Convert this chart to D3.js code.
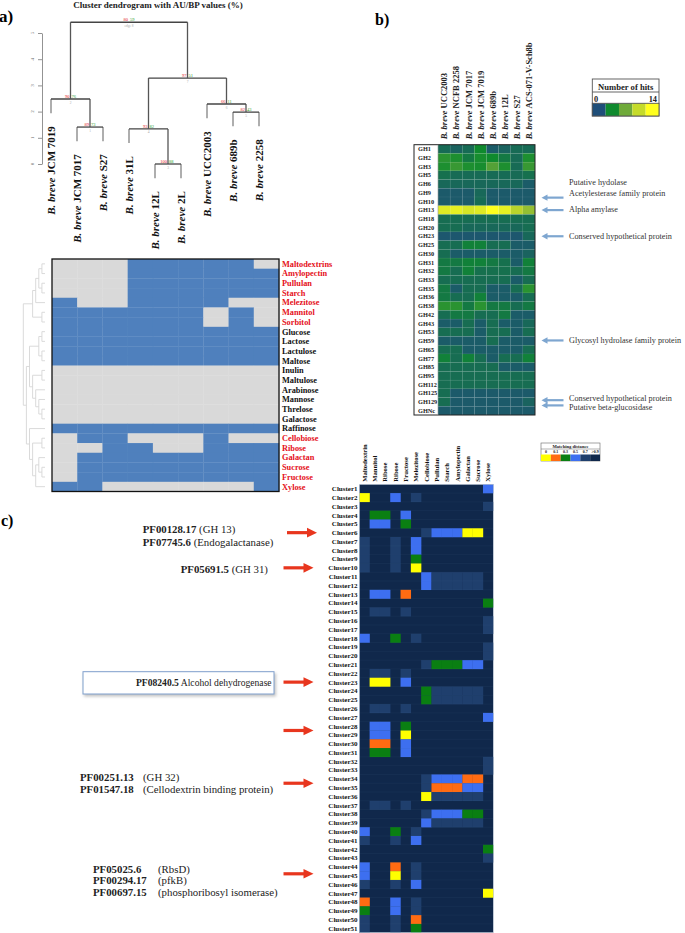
<!DOCTYPE html>
<html><head><meta charset="utf-8">
<script src="https://cdn.jsdelivr.net/npm/d3@7"></script>
<style>
body{margin:0;background:#fff}
svg{display:block}
text{font-family:"Liberation Serif","Times New Roman",serif}
</style>
</head><body>
<svg id="c" width="685" height="933"></svg>
<script>
// ---------------- DATA ----------------
// Panel a : dendrogram (pvclust)
const dendroLeaves = ["JCM 7019","JCM 7017","S27","31L","12L","2L","UCC2003","689b","2258"];
const dendroMerges = [[-2,-3],[-1,1],[-5,-6],[-4,3],[-8,-9],[-7,5],[4,6],[2,7]];
const dendroHeights = [1.41,2.48,0.0,1.34,1.98,2.29,3.28,5.41];
const dendroAU = [89,90,100,93,82,66,97,80];
const dendroBP = [73,76,88,82,43,11,51,59];
const yTicksA = [0,1,2,3,4,5];

// Panel a : growth heatmap
const sugarsA = ["Maltodextrins","Amylopectin","Pullulan","Starch","Melezitose","Mannitol","Sorbitol","Glucose","Lactose","Lactulose","Maltose","Inulin","Maltulose","Arabinose","Mannose","Threlose","Galactose","Raffinose","Cellobiose","Ribose","Galactan","Sucrose","Fructose","Xylose"];
const sugarsRedA = [1,1,1,1,1,1,1,0,0,0,0,0,0,0,0,0,0,0,1,1,1,1,1,1];
const growthA = [
 [0,0,0,1,1,1,1,1,0],
 [0,0,0,1,1,1,1,1,1],
 [0,0,0,1,1,1,1,1,1],
 [0,0,0,1,1,1,1,1,1],
 [1,0,0,1,1,1,1,0,0],
 [1,1,1,1,1,1,0,1,0],
 [1,1,1,1,1,1,0,1,0],
 [1,1,1,1,1,1,1,1,1],
 [1,1,1,1,1,1,1,1,1],
 [1,1,1,1,1,1,1,1,1],
 [1,1,1,1,1,1,1,1,1],
 [0,0,0,0,0,0,0,0,0],
 [0,0,0,0,0,0,0,0,0],
 [0,0,0,0,0,0,0,0,0],
 [0,0,0,0,0,0,0,0,0],
 [0,0,0,0,0,0,0,0,0],
 [0,0,0,0,0,0,0,0,0],
 [1,1,1,1,1,1,1,1,1],
 [0,1,1,0,0,0,1,0,0],
 [0,0,1,1,0,0,1,1,1],
 [0,1,1,1,1,1,1,1,1],
 [0,1,1,1,1,1,1,1,1],
 [0,1,1,1,1,1,1,1,1],
 [1,1,0,0,0,0,0,0,1]
];
const rowTreeA = [[[[[0,1],[2,3]],4],[5,6]],[[[[7,8],[9,10]],[[11,12],[13,[14,[15,16]]]]],[17,[[18,19],[[20,[21,22]],23]]]]];

// Panel b : GH families heatmap
const strainsB = ["UCC2003","NCFB 2258","JCM 7017","JCM 7019","689b","12L","S27","ACS-071-V-Sch8b"];
const ghRows = ["GH1","GH2","GH3","GH5","GH6","GH9","GH10","GH13","GH18","GH20","GH23","GH25","GH30","GH31","GH32","GH33","GH35","GH36","GH38","GH42","GH43","GH53","GH59","GH65","GH77","GH85","GH95","GH112","GH125","GH129","GHNc"];
const hitsB = [
 [1.7,1.2,1.7,3.5,0.8,1.2,1.7,1.7],
 [4.5,4.0,2.5,3.8,3.5,2.5,1.7,4.0],
 [4.0,5.0,4.0,3.8,6.0,4.0,1.7,5.0],
 [2.0,1.7,1.7,1.7,1.7,1.7,1.7,2.0],
 [1.5,1.5,1.5,1.5,1.5,1.5,1.5,0.8],
 [0.7,0.7,0.7,1.5,0.7,0.7,0.7,0.7],
 [0.7,0.7,0.7,1.7,0.7,0.7,0.7,0.7],
 [12,12.5,11.5,12,14,12.5,10,8.5],
 [1.8,1.8,1.8,1.8,1.8,1.8,1.8,1.8],
 [1.8,1.8,1.5,1.5,1.5,1.5,1.5,1.8],
 [0.5,0.5,0.5,0.5,0.5,0.5,0.5,1.5],
 [1.8,1.8,3.0,3.0,1.8,1.8,0.8,0.8],
 [1.8,0.8,0.8,0.8,0.8,0.8,0.8,1.2],
 [2.5,2.5,3.0,3.0,2.5,2.0,0.8,3.0],
 [2.5,1.8,3.0,2.0,2.0,2.0,1.8,2.5],
 [1.8,1.8,1.8,1.8,1.8,1.8,0.8,1.8],
 [2.5,0.8,1.8,1.8,0.8,0.8,1.8,4.5],
 [2.5,1.8,1.8,3.0,0.8,0.8,0.8,1.8],
 [4.5,4.5,2.5,4.5,2.5,2.5,1.8,2.5],
 [1.8,2.5,2.5,1.8,1.8,2.5,0.8,0.8],
 [0.8,0.8,1.8,0.8,1.8,0.8,0.8,1.5],
 [1.8,1.8,1.8,0.8,1.8,1.8,0.8,1.8],
 [0.8,0.8,0.8,0.8,1.8,0.8,0.8,0.8],
 [1.8,1.8,0.8,0.8,0.8,0.8,0.8,1.8],
 [3.0,1.8,3.0,1.8,0.8,1.8,1.8,3.0],
 [1.8,1.8,1.8,1.8,1.8,0.8,0.8,0.8],
 [1.8,1.8,1.8,1.8,1.8,1.8,1.8,1.8],
 [1.8,1.8,1.8,1.8,1.8,1.8,1.8,1.8],
 [1.8,0.7,0.7,0.7,0.7,0.7,0.7,0.7],
 [1.8,0.7,0.7,0.7,0.7,0.7,0.7,1.2],
 [0.7,0.7,0.7,0.7,0.7,0.7,0.7,0.7]
];
const hitsLegendStops = [0,3.5,7,10.5,14];
const hitsLegendColors = ["#1f4e79","#0f8a2e","#6faa3a","#c5db2a","#ffff1e"];
const annotB = [
 {text:"Putative hydolase", textPos:3.77, arrowPos:null},
 {text:"Acetylesterase family protein", textPos:5.03, arrowPos:5.57},
 {text:"Alpha amylase", textPos:6.87, arrowPos:7.0},
 {text:"Conserved hypothetical protein", textPos:9.96, arrowPos:10.0},
 {text:"Glycosyl hydrolase family protein", textPos:21.9, arrowPos:21.95},
 {text:"Conserved hypothetical protein", textPos:28.6, arrowPos:28.8},
 {text:"Putative beta-glucosidase", textPos:29.6, arrowPos:29.4}
];

// Panel c : cluster matching distances
const carbC = ["Maltodextrin","Mannitol","Ribose","Ribose","Fructose","Melezitose","Cellobiose","Pullulan","Starch","Amylopectin","Galactan","Sucrose","Xylose"];
const clusterNames = d3.range(1,52).map(i=>"Cluster"+i);
const distC = [
 [1,1,1,1,1,1,1,1,1,1,1,1,.5],
 [0,1,1,.5,1,.7,1,1,1,1,1,1,1],
 [1,1,1,1,1,1,1,1,1,1,1,1,.7],
 [1,.3,.3,1,.5,1,1,1,1,1,1,1,1],
 [1,.5,.5,1,.3,1,1,1,1,1,1,1,1],
 [1,1,1,1,1,1,.7,.5,.5,.5,0,0,1],
 [.7,1,1,.7,1,.5,1,1,1,1,1,1,1],
 [.7,1,1,.7,1,.5,1,1,1,1,1,1,1],
 [.7,1,1,.7,1,.3,1,1,1,1,1,1,1],
 [.7,1,1,.7,1,0,1,1,1,1,1,1,1],
 [1,1,1,1,1,1,.5,.7,.7,.7,.7,.7,1],
 [1,1,1,1,1,1,.5,.7,.7,.7,.7,.7,1],
 [1,.5,.5,1,.1,1,1,1,1,1,1,1,1],
 [1,1,1,1,1,1,1,1,1,1,1,1,.3],
 [1,.7,.7,1,.7,1,1,1,1,1,1,1,1],
 [1,1,1,1,1,1,1,1,1,1,1,1,.7],
 [1,1,1,1,1,1,1,1,1,1,1,1,.7],
 [.5,1,1,.3,1,.7,1,1,1,1,1,1,1],
 [1,1,1,1,1,1,1,1,1,1,1,1,.7],
 [1,1,1,1,1,1,1,1,1,1,1,1,.7],
 [1,1,1,1,1,1,.7,.3,.3,.3,.5,.5,1],
 [1,.7,.7,1,.7,1,1,1,1,1,1,1,1],
 [1,0,0,1,.5,1,1,1,1,1,1,1,1],
 [1,1,1,1,1,1,.3,.7,.7,.7,.7,.7,1],
 [1,1,1,1,1,1,.3,.7,.7,.7,.7,.7,1],
 [1,.7,.7,1,.7,1,1,1,1,1,1,1,1],
 [1,1,1,1,1,1,1,1,1,1,1,1,.5],
 [1,.5,.5,1,.3,1,1,1,1,1,1,1,1],
 [1,.5,.5,1,0,1,1,1,1,1,1,1,1],
 [1,.1,.1,1,.5,1,1,1,1,1,1,1,1],
 [1,.3,.3,1,.5,1,1,1,1,1,1,1,1],
 [1,1,1,1,1,1,1,1,1,1,1,1,.7],
 [1,1,1,1,1,1,1,1,1,1,1,1,.7],
 [1,1,1,1,1,1,.7,.5,.5,.5,.1,.1,1],
 [1,1,1,1,1,1,.7,.1,.1,.1,.5,.5,1],
 [1,1,1,1,1,1,0,.7,.7,.7,.7,.7,1],
 [1,.7,.7,1,.7,1,1,1,1,1,1,1,1],
 [1,1,1,1,1,1,.7,.5,.5,.5,.3,.3,1],
 [1,1,1,1,1,1,.5,.7,.7,.7,.7,.7,1],
 [.5,1,1,.3,1,.7,1,1,1,1,1,1,1],
 [.7,1,1,.7,1,.5,1,1,1,1,1,1,1],
 [1,1,1,1,1,1,1,1,1,1,1,1,.3],
 [1,1,1,1,1,1,1,1,1,1,1,1,.7],
 [.5,1,1,.1,1,.7,1,1,1,1,1,1,1],
 [.5,1,1,0,1,.7,1,1,1,1,1,1,1],
 [.7,1,1,.7,1,.5,1,1,1,1,1,1,1],
 [1,1,1,1,1,1,1,1,1,1,1,1,0],
 [.1,1,1,.5,1,.7,1,1,1,1,1,1,1],
 [.3,1,1,.5,1,.7,1,1,1,1,1,1,1],
 [.7,1,1,.7,1,.1,1,1,1,1,1,1,1],
 [.7,1,1,.7,1,.3,1,1,1,1,1,1,1]
];
const distLevels = [0,0.1,0.3,0.5,0.7,1];
const distLabels = ["0","0.1","0.3","0.5","0.7",">0.9"];
const distColors = ["#ffff00","#ff6b12","#0a7f12","#3d6ff0","#1f3f6d","#10284b"];
const arrowRowsC = [6,10,23,28.5,34.5,44.8];
const annotC = [
 {parts:[["PF00128.17","(GH 13)"]], x:142.7, y:532.5},
 {parts:[["PF07745.6","(Endogalactanase)"]], x:142.7, y:545.5},
 {parts:[["PF05691.5","(GH 31)"]], x:180.7, y:572.5},
 {parts:[["PF00251.13","(GH 32)"]], x:80, y:781, px:143},
 {parts:[["PF01547.18","(Cellodextrin binding protein)"]], x:80, y:793, px:143},
 {parts:[["PF05025.6","(RbsD)"]], x:93, y:872.5, px:158},
 {parts:[["PF00294.17","(pfkB)"]], x:93, y:884, px:158},
 {parts:[["PF00697.15","(phosphoribosyl  isomerase)"]], x:93, y:895.5, px:158}
];

// ---------------- DRAWING ----------------
const svg = d3.select("#c");
const line = (g,x1,y1,x2,y2,col,w)=>g.append("line").attr("x1",x1).attr("y1",y1).attr("x2",x2).attr("y2",y2).attr("stroke",col).attr("stroke-width",w);

// panel letters
svg.append("text").attr("x",-1).attr("y",22).attr("font-size",17).attr("font-weight","bold").text("a)");
svg.append("text").attr("x",375).attr("y",25).attr("font-size",16).attr("font-weight","bold").text("b)");
svg.append("text").attr("x",1).attr("y",526).attr("font-size",16).attr("font-weight","bold").text("c)");

// ===== Panel a : dendrogram =====
const gA = svg.append("g");
gA.append("text").attr("x",158).attr("y",7.5).attr("text-anchor","middle").attr("font-size",9).attr("font-weight","bold").attr("fill","#222")
  .text("Cluster dendrogram with AU/BP values (%)");
const xA = d3.scalePoint().domain(d3.range(dendroLeaves.length)).range([51,259]);
const yA = d3.scaleLinear().domain([0,5]).range([164,33]);
const axA = gA.append("g").attr("transform","translate(42,0)")
  .call(d3.axisLeft(yA).tickValues(yTicksA).tickSize(4).tickSizeOuter(0).tickFormat(""));
axA.select(".domain").attr("stroke","#777").attr("stroke-width",0.8);
axA.selectAll(".tick line").attr("stroke","#777").attr("stroke-width",0.8);
yTicksA.forEach(t=>{
  gA.append("text").attr("transform",`translate(34,${yA(t)}) rotate(-90)`).attr("text-anchor","middle")
    .attr("font-size",5).attr("fill","#666").attr("font-family","DejaVu Sans, sans-serif").text(t);
});
const hang = 0.54;
const nodeX = [], nodeY = [];
const leafEnd = [];
const refX = r => r<0 ? xA(-r-1) : nodeX[r-1];
dendroMerges.forEach((m,i)=>{
  nodeX[i] = (refX(m[0])+refX(m[1]))/2;
  nodeY[i] = yA(dendroHeights[i]);
  m.forEach(r=>{ if(r<0) leafEnd[-r-1] = yA(dendroHeights[i]-hang); });
});
dendroMerges.forEach((m,i)=>{
  const y = nodeY[i];
  m.forEach(r=>{
    const x = refX(r);
    const yc = r<0 ? leafEnd[-r-1] : nodeY[r-1];
    line(gA,x,y,x,yc,r<0?"#9a9a9a":"#555",r<0?1.6:1.3);
  });
  line(gA,refX(m[0]),y,refX(m[1]),y,"#444",1.3);
  gA.append("text").attr("x",nodeX[i]-1).attr("y",y-1).attr("text-anchor","end").attr("font-size",4.5).attr("fill","#e41a1c").attr("font-family","DejaVu Sans, sans-serif").text(dendroAU[i]);
  gA.append("text").attr("x",nodeX[i]+1).attr("y",y-1).attr("text-anchor","start").attr("font-size",4.5).attr("fill","#2ca02c").attr("font-family","DejaVu Sans, sans-serif").text(dendroBP[i]);
  gA.append("text").attr("x",nodeX[i]).attr("y",y+4.5).attr("text-anchor","middle").attr("font-size",3.5).attr("fill","#aaa").attr("font-family","DejaVu Sans, sans-serif").text(i===7?"edge "+(i+1):i+1);
});
dendroLeaves.forEach((name,i)=>{
  const t = gA.append("text").attr("transform",`translate(${xA(i)+4},${leafEnd[i]+13}) rotate(-90)`)
    .attr("text-anchor","end").attr("font-size",11).attr("font-weight","bold").attr("fill","#111");
  t.append("tspan").attr("font-style","italic").text("B. breve ");
  t.append("tspan").text(name);
});

// ===== Panel a : heatmap =====
const xH = d3.scaleBand().domain(d3.range(9)).range([52,279]);
const yH = d3.scaleBand().domain(sugarsA).range([259,491.5]);
sugarsA.forEach((s,r)=>{
  growthA[r].forEach((v,c)=>{
    gA.append("rect").attr("x",xH(c)).attr("y",yH(s)).attr("width",xH.bandwidth()+0.3).attr("height",yH.bandwidth()+0.3)
      .attr("fill",v? "#4f80bd":"#d9d9d9");
  });
  gA.append("text").attr("x",282).attr("y",yH(s)+yH.bandwidth()/2).attr("dy","0.35em").attr("font-size",8.3).attr("font-weight","bold")
    .attr("fill",sugarsRedA[r]?"#e5101a":"#111").text(s);
});
gA.append("rect").attr("x",52).attr("y",259).attr("width",227).attr("height",232.5).attr("fill","none").attr("stroke","#111").attr("stroke-width",1.3);
// row dendrogram (faint)
function drawRowTree(node){
  if(typeof node === "number"){
    return {y: yH(sugarsA[node])+yH.bandwidth()/2, x: 45, lvl: 0};
  }
  const ch = node.map(drawRowTree);
  const lvl = d3.max(ch,d=>d.lvl)+1;
  const x = 45 - lvl*3.1;
  ch.forEach(c=>line(gA,x,c.y,c.x,c.y,"#d6d6d6",0.9));
  line(gA,x,d3.min(ch,d=>d.y),x,d3.max(ch,d=>d.y),"#d6d6d6",0.9);
  return {y:d3.mean(ch,d=>d.y), x, lvl};
}
drawRowTree(rowTreeA);

// ===== Panel b =====
const gB = svg.append("g");
const xB = d3.scaleBand().domain(d3.range(strainsB.length)).range([438,535]);
const yB = d3.scaleBand().domain(ghRows).range([144.7,415]);
const colB = d3.scaleLinear().domain(hitsLegendStops).range(hitsLegendColors).interpolate(d3.interpolateRgb);
gB.append("rect").attr("x",414).attr("y",144.7).attr("width",24).attr("height",270.3).attr("fill","#fff");
ghRows.forEach((g,r)=>{
  hitsB[r].forEach((v,c)=>{
    gB.append("rect").attr("x",xB(c)).attr("y",yB(g)).attr("width",xB.bandwidth()).attr("height",yB.bandwidth())
      .attr("fill",colB(v)).attr("stroke","rgba(255,255,255,0.07)").attr("stroke-width",0.5);
  });
  gB.append("text").attr("x",418).attr("y",yB(g)+yB.bandwidth()/2).attr("dy","0.35em").attr("font-size",6.3).attr("font-weight","bold").attr("fill","#222").text(g);
});
gB.append("rect").attr("x",414).attr("y",144.7).attr("width",121).attr("height",270.3).attr("fill","none").attr("stroke","#222").attr("stroke-width",1);
gB.append("line").attr("x1",438).attr("x2",438).attr("y1",144.7).attr("y2",415).attr("stroke","#999").attr("stroke-width",0.6);
strainsB.forEach((s,i)=>{
  const t = gB.append("text").attr("transform",`translate(${xB(i)+xB.bandwidth()/2+3.2},139.3) rotate(-90)`)
    .attr("font-size",8.5).attr("font-weight","bold").attr("fill","#222");
  t.append("tspan").attr("font-style","italic").text("B. breve ");
  t.append("tspan").text(s);
});
// legend b
const lgB = gB.append("g");
lgB.append("rect").attr("x",592.3).attr("y",79).attr("width",66.7).attr("height",37).attr("fill","#fff").attr("stroke","#555").attr("stroke-width",0.9);
lgB.append("line").attr("x1",592.3).attr("x2",659).attr("y1",92).attr("y2",92).attr("stroke","#555").attr("stroke-width",0.9);
lgB.append("text").attr("x",625.7).attr("y",89.8).attr("text-anchor","middle").attr("font-size",8.6).attr("font-weight","bold").attr("fill","#222").text("Number of hits");
lgB.append("text").attr("x",594).attr("y",101.5).attr("font-size",8.3).attr("font-weight","bold").attr("fill","#222").text(hitsLegendStops[0]);
lgB.append("text").attr("x",657).attr("y",101.5).attr("text-anchor","end").attr("font-size",8.3).attr("font-weight","bold").attr("fill","#222").text(hitsLegendStops[hitsLegendStops.length-1]);
const xLB = d3.scaleBand().domain(d3.range(hitsLegendColors.length)).range([592.3,659]);
hitsLegendColors.forEach((c,i)=>{
  lgB.append("rect").attr("x",xLB(i)).attr("y",103.3).attr("width",xLB.bandwidth()).attr("height",12.7).attr("fill",c);
});
lgB.append("rect").attr("x",592.3).attr("y",103.3).attr("width",66.7).attr("height",12.7).attr("fill","none").attr("stroke","#555").attr("stroke-width",0.9);
// annotations b
const yPosB = p => yB.range()[0] + (p+0.5)*yB.step();
function arrowLeft(g,x1,x2,y,col,w,hl,hw){
  g.append("line").attr("x1",x1+hl-0.5).attr("x2",x2).attr("y1",y).attr("y2",y).attr("stroke",col).attr("stroke-width",w);
  g.append("path").attr("d",`M${x1},${y} L${x1+hl},${y-hw} L${x1+hl},${y+hw} Z`).attr("fill",col);
}
function arrowRight(g,x1,x2,y,col,w,hl,hw){
  g.append("line").attr("x1",x1).attr("x2",x2-hl+0.5).attr("y1",y).attr("y2",y).attr("stroke",col).attr("stroke-width",w);
  g.append("path").attr("d",`M${x2},${y} L${x2-hl},${y-hw} L${x2-hl},${y+hw} Z`).attr("fill",col);
}
annotB.forEach(a=>{
  gB.append("text").attr("x",569).attr("y",yPosB(a.textPos)).attr("dy","0.35em").attr("font-size",8.2).attr("fill","#333").text(a.text);
  if(a.arrowPos!==null) arrowLeft(gB,541.5,563.5,yPosB(a.arrowPos),"#7ea6d0",2.2,6,3.2);
});

// ===== Panel c =====
const gC = svg.append("g");
const xC = d3.scaleBand().domain(d3.range(carbC.length)).range([359.3,493.3]);
const yC = d3.scaleBand().domain(clusterNames).range([484.3,932.7]);
const colC = d3.scaleOrdinal().domain(distLevels).range(distColors);
gC.append("rect").attr("x",359.3).attr("y",484.3).attr("width",134).attr("height",448.4).attr("fill",colC(1));
clusterNames.forEach((n,r)=>{
  distC[r].forEach((v,c)=>{
    if(v===1) return;
    gC.append("rect").attr("x",xC(c)).attr("y",yC(n)).attr("width",xC.bandwidth()+0.2).attr("height",yC.bandwidth()+0.2).attr("fill",colC(v));
  });
  gC.append("line").attr("x1",359.3).attr("x2",493.3).attr("y1",yC(n)).attr("y2",yC(n)).attr("stroke","rgba(140,170,220,0.10)").attr("stroke-width",0.5);
  gC.append("text").attr("x",357.5).attr("y",yC(n)+yC.bandwidth()/2).attr("dy","0.35em").attr("text-anchor","end")
    .attr("font-size",7).attr("font-weight","bold").attr("fill","#111").text(n);
});
gC.append("rect").attr("x",359.3).attr("y",484.3).attr("width",134).attr("height",448.4).attr("fill","none").attr("stroke","#c9d2e0").attr("stroke-width",0.6);
carbC.forEach((s,i)=>{
  gC.append("text").attr("transform",`translate(${xC(i)+xC.bandwidth()/2+2.3},481.7) rotate(-90)`)
    .attr("font-size",6.6).attr("font-weight","bold").attr("fill","#111").text(s);
});
// legend c
const lgC = gC.append("g");
const xLC = d3.scaleBand().domain(d3.range(distLevels.length)).range([541,600]);
lgC.append("rect").attr("x",541).attr("y",443).attr("width",59).attr("height",18).attr("fill","#fff").attr("stroke","#666").attr("stroke-width",0.6);
lgC.append("line").attr("x1",541).attr("x2",600).attr("y1",449).attr("y2",449).attr("stroke","#666").attr("stroke-width",0.5);
lgC.append("text").attr("x",570.5).attr("y",447.6).attr("text-anchor","middle").attr("font-size",4.6).attr("font-weight","bold").attr("fill","#222").text("Matching distance");
distLabels.forEach((l,i)=>{
  lgC.append("text").attr("x",xLC(i)+xLC.bandwidth()/2).attr("y",453.3).attr("text-anchor","middle").attr("font-size",4).attr("font-weight","bold").attr("fill","#222").text(l);
  lgC.append("rect").attr("x",xLC(i)).attr("y",454.5).attr("width",xLC.bandwidth()).attr("height",6.5).attr("fill",distColors[i]);
});
// annotations c
annotC.forEach(a=>{
  a.parts.forEach(p=>{
    const t = gC.append("text").attr("x",a.x).attr("y",a.y).attr("font-size",10.8).attr("fill","#222");
    t.append("tspan").attr("font-weight","bold").text(p[0]);
    if(a.px) t.append("tspan").attr("x",a.px).text(p[1]);
    else t.append("tspan").text(" "+p[1]);
  });
});
// boxed annotation
const defs = svg.append("defs");
const f = defs.append("filter").attr("id","sh").attr("x","-10%").attr("y","-30%").attr("width","130%").attr("height","180%");
f.append("feDropShadow").attr("dx",1.5).attr("dy",2).attr("stdDeviation",1.5).attr("flood-color","#999").attr("flood-opacity",0.6);
gC.append("rect").attr("x",83).attr("y",671.7).attr("width",191).attr("height",22.3).attr("fill","#fff").attr("stroke","#7f9fcc").attr("stroke-width",1).attr("filter","url(#sh)");
const tb = gC.append("text").attr("x",136).attr("y",686.3).attr("font-size",9.6).attr("fill","#222");
tb.append("tspan").attr("font-weight","bold").text("PF08240.5");
tb.append("tspan").text(" Alcohol dehydrogenase");
// red arrows
const yPosC = r => yC.range()[0] + (r-0.5)*yC.step();
arrowRowsC.forEach((r,i)=>{
  const x1 = i===0 ? 287 : 283.5;
  arrowRight(gC,x1,x1+30,yPosC(r),"#e8361e",3.2,10,4.8);
});
</script>
</body></html>
